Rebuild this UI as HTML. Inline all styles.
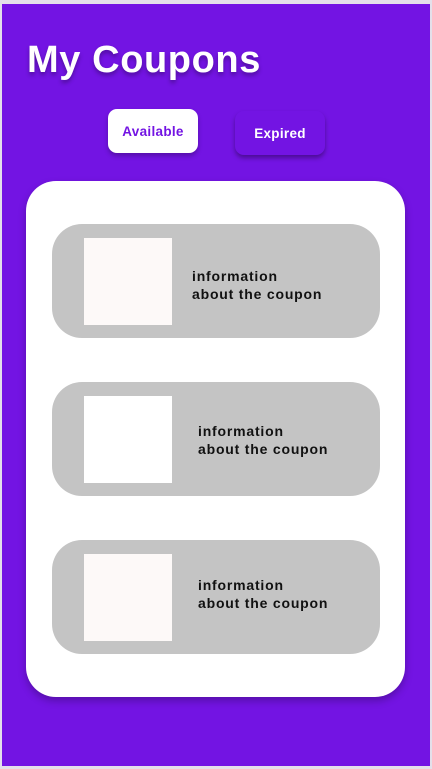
<!DOCTYPE html>
<html><head><meta charset="utf-8"><style>
*{margin:0;padding:0;box-sizing:border-box}
body{width:432px;height:769px;background:#e4e0ea;position:relative;overflow:hidden;font-family:"Liberation Sans",sans-serif}
.screen{position:absolute;left:2px;top:4px;width:428px;height:762px;background:#7314e3}
h1{position:absolute;left:25px;top:35px;font-size:38px;font-weight:bold;color:#fff;text-shadow:0 3px 4px rgba(0,0,0,.3);letter-spacing:0.6px}
.btn{position:absolute;height:44px;border-radius:9px;font-size:13.5px;font-weight:bold;display:flex;align-items:center;justify-content:center;letter-spacing:0.3px}
.panel{position:absolute;left:24px;top:177px;width:379px;height:516px;background:#fff;border-radius:30px;box-shadow:0 4px 8px rgba(0,0,0,.25)}
.card{position:absolute;left:26px;width:328px;height:114px;background:#c4c4c4;border-radius:30px}
.img{position:absolute;left:32px;top:14px;width:88px;height:87px;background:#fdf9f8}
.txt{position:absolute;font-size:14px;font-weight:bold;line-height:18px;color:#111;letter-spacing:0.8px}
</style></head><body>
<div class="screen">
<h1>My Coupons</h1>
<div class="btn" style="left:106px;top:105px;width:90px;background:#fff;color:#7314e3;box-shadow:0 3px 5px rgba(0,0,0,.25)">Available</div>
<div class="btn" style="left:233px;top:107px;width:90px;background:#7314e3;color:#fff;box-shadow:0 3px 5px rgba(0,0,0,.35)">Expired</div>
<div class="panel">
<div class="card" style="top:43px"><div class="img"></div><div class="txt" style="left:140px;top:43px">information<br>about the coupon</div></div>
<div class="card" style="top:201px"><div class="img" style="background:#fff"></div><div class="txt" style="left:146px;top:40px">information<br>about the coupon</div></div>
<div class="card" style="top:359px"><div class="img"></div><div class="txt" style="left:146px;top:36px">information<br>about the coupon</div></div>
</div>
</div>
</body></html>
